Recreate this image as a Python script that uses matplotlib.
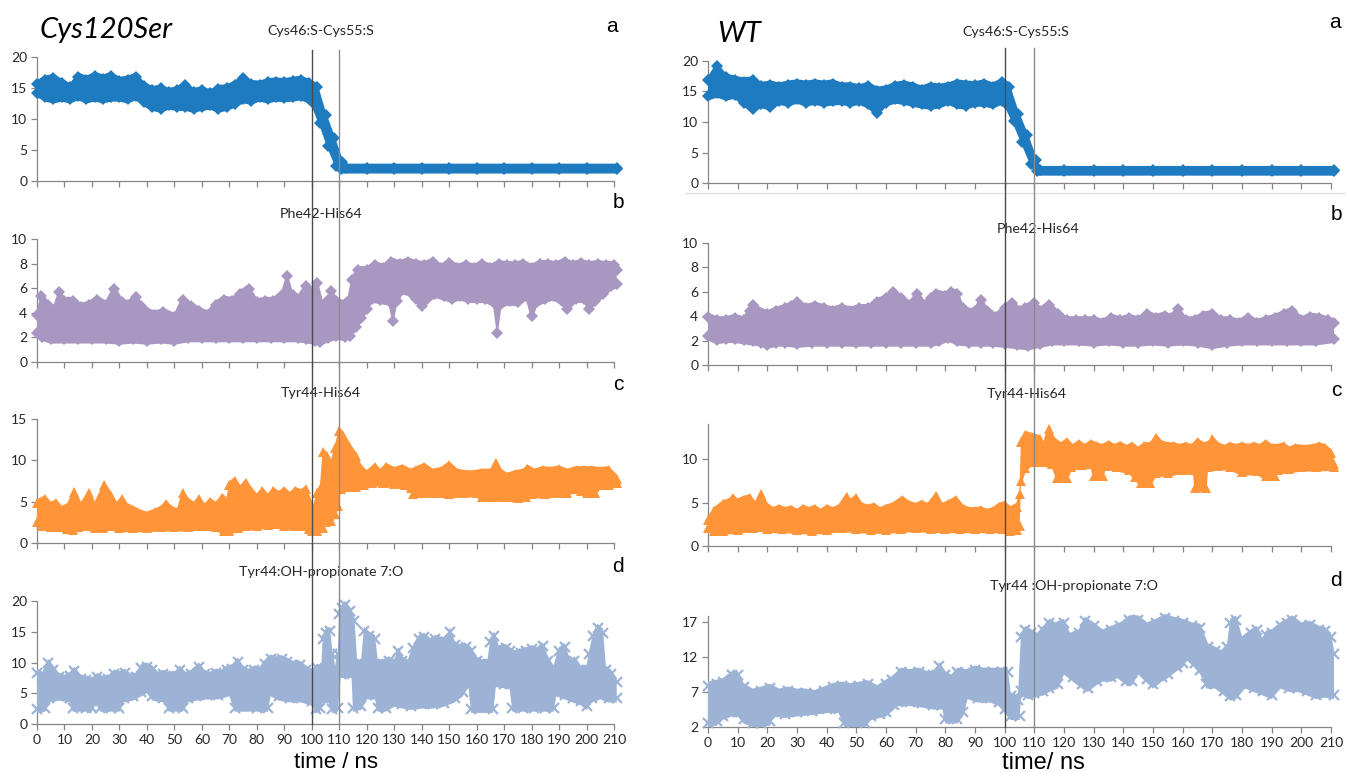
import numpy as np
import matplotlib
matplotlib.use("Agg")
import matplotlib.pyplot as plt
from matplotlib.lines import Line2D
from matplotlib.transforms import offset_copy

# ---------------- DATA (envelopes, time in ns) ----------------
# Cys120Ser, a: Cys46:S-Cys55:S
mut_a_t_hi = [0,3,6,9,12,15,18,21,24,27,30,33,36,39,42,45,48,51,54,57,60,63,66,69,72,75,78,81,84,87,90,93,96,99,102,105,108,111,112.5,120,130,140,150,160,170,180,190,200,211]
mut_a_hi = [16.3,17.0,17.3,16.5,15.8,17.5,17.0,17.6,17.2,17.6,16.8,17.0,17.5,16.0,15.3,15.6,15.0,15.3,16.2,15.0,15.3,14.8,15.5,15.6,16.2,17.3,16.3,16.2,16.6,16.7,16.6,16.8,17.0,16.5,15.8,11.3,7.6,3.8,2.8,2.8,2.8,2.8,2.8,2.8,2.8,2.8,2.8,2.8,2.8]
mut_a_t_lo = [0,3,6,9,12,15,18,21,24,27,30,33,36,39,42,45,48,51,54,57,60,63,66,69,72,75,78,81,84,87,90,93,96,99,100,103,106,109,110.5,120,130,140,150,160,170,180,190,200,211]
mut_a_lo = [13.5,12.8,12.5,12.8,12.5,13.0,12.5,12.8,12.5,12.8,12.8,12.5,13.0,12.0,11.3,11.0,11.5,11.3,11.3,11.0,11.3,11.5,11.0,11.3,11.8,12.5,12.3,12.8,12.5,12.8,12.7,12.8,13.0,12.5,12.0,8.7,5.0,1.8,1.2,1.2,1.2,1.2,1.2,1.2,1.2,1.2,1.2,1.2,1.2]

# WT, a
wt_a_t_hi = [0,3,6,9,12,15,18,21,24,27,30,33,36,39,42,45,48,51,54,57,60,63,66,69,72,75,78,81,84,87,90,93,96,99,101.5,104.5,107.5,110.5,112,120,130,140,150,160,170,180,190,200,211]
wt_a_hi = [17.5,19.8,18.0,17.6,17.3,17.5,16.6,16.8,16.5,16.8,17.0,16.8,17.0,16.8,17.0,16.5,16.5,16.2,16.6,15.8,16.0,16.6,16.8,16.5,16.0,16.5,16.3,16.5,17.0,16.8,16.7,17.0,16.5,17.2,16.5,12.0,8.5,4.5,2.8,2.8,2.8,2.8,2.8,2.8,2.8,2.8,2.8,2.8,2.8]
wt_a_t_lo = [0,3,6,9,12,15,18,21,24,27,30,33,36,39,42,45,48,51,54,57,60,63,66,69,72,75,78,81,84,87,90,93,96,99,100,103,106,109,111,120,130,140,150,160,170,180,190,200,211]
wt_a_lo = [13.5,14.0,13.5,13.8,12.5,11.5,12.3,11.8,12.8,12.5,13.0,12.5,12.8,12.5,12.7,12.8,12.5,12.8,12.2,10.8,12.5,13.0,12.8,12.5,12.2,12.0,12.2,12.8,12.2,12.0,12.5,12.5,12.2,12.8,12.5,9.5,6.0,2.5,1.2,1.2,1.2,1.2,1.2,1.2,1.2,1.2,1.2,1.2,1.2]

# Cys120Ser, b: Phe42-His64
mut_b_t_hi = [0,1.5,4,6,8,10,13,16,19,22,25,28,31,33,36,38,40,43,46,50,53,56,59,62,65,68,71,74,77,80,83,86,89,91,93,95,98,100,102,104,106,107,109,111,113,114.5,117,120,123,126,129,132,135,138,141,144,147,150,153,156,159,162,165,168,171,174,177,180,183,186,189,192,195,198,201,204,207,210,211]
mut_b_hi = [4.2,5.7,5.0,4.6,6.0,5.3,5.3,4.8,5.0,5.4,5.0,6.3,5.2,5.0,5.6,4.9,4.4,4.2,4.4,4.0,5.4,4.9,4.5,4.2,5.0,5.4,5.3,5.9,6.3,5.2,5.3,5.3,5.8,7.3,5.8,5.5,6.5,6.0,6.8,5.0,5.4,6.1,5.3,5.0,5.2,7.0,7.8,7.8,8.2,8.0,8.5,8.3,8.5,8.3,8.2,8.5,8.0,8.4,8.0,8.2,8.0,8.3,8.0,8.3,8.2,8.2,8.3,8.0,8.3,8.3,8.2,8.5,8.2,8.4,8.2,8.3,8.2,8.2,7.8]
mut_b_t_lo = [0,2,5,10,15,20,25,30,35,40,45,50,55,60,65,70,75,80,85,90,95,98,101,103,106,109,112,114,116,118,120,122,125,128,129.5,131,133,136,138,140,142,145,148,151,154,157,160,163,166,167.5,169,172,175,178,180,182,185,188,191,193,196,199,201,203,206,209,211]
mut_b_lo = [2.0,1.7,1.5,1.5,1.5,1.5,1.5,1.4,1.5,1.4,1.5,1.4,1.6,1.6,1.6,1.6,1.6,1.6,1.6,1.6,1.6,1.5,1.4,1.3,1.6,1.8,1.7,1.8,2.5,3.2,4.0,4.8,4.7,4.6,3.0,4.6,5.5,5.3,4.8,4.2,4.8,5.2,5.0,4.8,5.0,4.8,4.8,4.8,4.5,2.0,4.4,4.6,4.5,5.0,3.4,4.5,4.8,5.0,4.6,4.0,4.8,4.8,4.0,4.6,5.2,5.8,6.0]

# WT, b
wt_b_t_hi = [0,3,6,9,12,14,15,17,20,23,26,28,30,33,36,39,42,45,48,51,54,57,60,62.5,65,68,70.5,73,75,77,80,82,84,86,88,90,92,94,97,100,102.5,105,107,110,112,115,118,121,124,127,130,133,136,139,142,145,148,151,154,156,158.5,161,164,167,170,173,176,179,182,185,188,191,194,197,200,203,206,209,211]
wt_b_hi = [4.3,4.0,4.0,4.2,4.0,4.8,5.3,4.8,4.5,4.8,5.0,5.2,5.5,5.0,5.2,5.0,4.8,5.0,4.8,5.0,5.0,5.5,5.8,6.3,5.8,5.3,6.2,5.3,5.8,6.2,6.0,6.3,6.2,5.0,4.6,4.8,5.7,4.8,4.3,5.0,5.4,4.8,5.0,5.4,4.8,5.3,4.5,4.0,4.0,4.0,4.0,3.8,4.2,4.0,4.2,4.0,4.5,4.2,4.4,4.2,4.9,4.0,4.0,4.4,4.5,4.0,4.0,3.8,4.2,3.8,4.0,4.2,4.5,4.8,4.0,4.3,4.2,4.0,3.8]
wt_b_t_lo = [0,3,6,9,12,15,18,20,23,26,30,35,40,45,50,55,60,65,70,75,78,81,84,88,92,96,100,104,108,112,116,120,125,130,135,140,145,150,155,160,165,170,175,180,185,190,195,200,205,211]
wt_b_lo = [2.0,1.7,1.8,1.8,1.7,1.6,1.5,1.3,1.5,1.5,1.4,1.5,1.5,1.5,1.5,1.5,1.5,1.5,1.5,1.5,1.6,1.9,1.6,1.5,1.5,1.5,1.4,1.3,1.2,1.4,1.6,1.6,1.6,1.5,1.6,1.5,1.5,1.6,1.5,1.6,1.5,1.3,1.5,1.6,1.6,1.6,1.6,1.6,1.6,1.8]

# Cys120Ser, c: Tyr44-His64
mut_c_t_hi = [0,3,5,7,9,11,13.5,16,19,21,24.5,27,29,31,33,35,38,40,43,45,47,49,51,53,55,57,59,61,63,65,67.5,69,70,72,74,76,78,80,82,84,86,88,90,92,94,96,98,99.5,100.5,102,103,104,105.5,107,108.5,110,111.5,113.5,116,118,120,123,125,127,130,133,136,138,141,144,147,150,153,156,159,162,165,167,169,171,174,177,178.5,181,184,187,190,193,196,199,202,205,208,211]
mut_c_hi = [5.3,5.8,5.0,5.3,4.5,4.8,6.7,5.0,6.5,5.0,7.5,6.2,5.0,5.8,4.8,4.5,4.0,3.8,4.2,4.5,5.2,4.5,4.2,6.5,5.5,5.0,5.8,4.8,5.5,5.0,6.0,5.5,7.5,8.0,7.0,7.8,6.8,6.0,6.8,6.0,6.8,6.3,6.8,6.2,6.8,6.5,7.0,5.5,4.5,6.5,7.0,11.5,11.0,10.0,12.0,14.0,13.5,12.3,11.0,9.5,8.8,9.7,9.0,9.7,9.2,9.5,9.0,9.3,9.7,9.0,9.2,9.9,9.0,8.8,8.8,9.0,9.0,10.2,9.0,8.5,8.8,9.0,9.5,9.0,9.3,9.2,9.4,9.0,9.3,9.3,9.3,9.2,9.3,8.3]
mut_c_t_lo = [0,2,5,8,11,13,15,18,21,24,27,30,35,40,45,50,55,60,65,68,70,73,76,80,84,87,90,94,97,99,100,102,104,105,107,108.5,109.5,110.5,113,116,119,122,126,130,134,136,137,141,145,150,155,160,162,166,170,175,178,180,185,190,193,195,198,200,203,205,208,211]
mut_c_lo = [2.0,1.5,1.4,1.4,1.2,1.1,1.4,1.5,1.3,1.3,1.5,1.3,1.3,1.3,1.4,1.4,1.4,1.5,1.4,1.0,1.0,1.3,1.5,1.6,1.7,1.8,1.6,1.5,1.5,1.2,0.9,1.0,1.3,2.0,2.2,3.0,4.0,6.0,6.3,6.3,6.5,6.8,6.8,6.6,6.5,6.2,5.4,5.5,5.5,5.4,5.5,5.5,5.0,5.0,5.0,4.9,5.0,5.4,5.4,5.5,5.5,6.0,5.8,5.5,5.6,6.5,6.5,6.8]

# WT, c
wt_c_t_hi = [0,2,4,5,7,8.3,10,12,14,16,18,20,22,24,26,28,30,32,34,36,38,40,42,44,46.7,48,50,52,54,56,58,60,62,65.5,68,70,72,74,77,79,81,83.6,86,88,90,92,94,96,98,100,102,104,105,105.5,107,110,112,113,114.8,117,119,121,123,125,127,129,131,133,135,137,139,141,143,145,147,149,151,153,155,157,159,161,163,165,167,169,170,172,174,176,178,180,182,184,186,188,190,192,194,196,198,200,202,204,206,208,210,211]
wt_c_hi = [3.5,4.5,5.0,5.3,5.5,6.0,5.5,5.8,6.0,5.2,6.5,5.0,4.5,4.8,4.5,4.7,4.3,4.8,4.5,4.8,4.3,4.8,4.5,4.8,6.2,5.5,6.0,5.0,4.8,5.0,4.5,4.8,5.0,5.8,5.2,5.0,5.3,5.0,6.3,5.0,5.3,5.8,4.8,4.5,4.5,4.6,4.3,4.5,5.0,5.2,4.6,5.0,6.5,12.5,13.3,13.0,12.8,12.0,14.0,12.5,12.0,12.5,11.8,12.3,11.8,12.3,12.0,11.8,12.2,11.8,12.1,11.7,12.0,11.5,12.0,12.0,13.0,12.2,12.0,12.0,11.8,12.0,11.8,12.5,12.0,12.2,12.8,12.0,11.7,12.0,11.8,12.0,11.8,12.0,11.8,12.3,11.8,11.8,12.0,11.5,11.8,11.7,11.7,11.8,12.0,11.8,11.2,10.0]
wt_c_t_lo = [0,2,5,10,15,18,20,25,30,35,40,45,50,55,60,65,70,75,80,85,90,95,99,101.7,104,105,105.5,107,109,112,116,117.5,121,122.5,126,129,130,133,134,138,142,144,146,149,151,155,160,163.5,164,168,168.5,172,176,180,185,188,191,192,196,200,205,211]
wt_c_lo = [1.6,1.2,1.3,1.4,1.6,1.7,1.5,1.5,1.4,1.3,1.4,1.6,1.5,1.4,1.4,1.5,1.6,1.5,1.5,1.5,1.5,1.5,1.5,1.2,1.4,1.8,7.0,8.5,9.2,9.2,9.0,7.4,7.4,8.7,8.9,9.0,7.6,7.6,8.8,8.6,8.3,7.5,6.8,6.8,8.0,8.0,8.3,8.3,6.2,6.2,8.6,8.8,8.7,8.1,8.2,7.6,7.6,8.3,8.4,8.6,8.6,8.7]

# Cys120Ser, d: Tyr44:OH-propionate 7:O
mut_d_t_hi = [0,2,4,6,8,10,12,13.6,16,18,20,22,24,26,28,30,32,34,36,38,40,42,44,46,48,50,52,54,56,59,61,63,65,67,69,71,73,75,77,79,81,83,85,87,89,91,93,95.6,98,100,102,103.5,104,105,106.5,107.5,108.5,109.5,110,111,112,114,115.5,116.5,118,119,121,123,124,126,128,130,131.5,133,135,137,139,141,143,145,147,149,150.3,152,154,156,158,160,162,164,165,166.4,168,170.6,172,174,176,178,180,182,184,186,188,190,192,194,195.6,198,200,201,202.5,204,206,207,209,211]
mut_d_hi = [9.0,8.5,10.6,9.5,8.3,8.0,8.5,9.3,8.0,7.8,7.6,8.3,7.8,8.0,8.8,8.6,9.0,8.2,8.3,9.8,10.0,9.5,8.5,8.8,8.5,8.5,9.5,8.5,8.8,10.0,8.8,8.5,9.0,8.8,9.5,9.7,10.8,9.5,9.0,9.5,9.3,10.5,11.3,11.0,11.2,10.8,10.3,10.3,9.5,9.0,9.8,9.5,14.5,15.5,15.8,12.0,9.5,12.0,18.5,19.5,20.0,19.0,17.5,10.5,10.5,15.8,15.0,14.5,10.5,10.5,11.0,10.5,12.5,11.0,10.5,13.0,14.5,14.8,14.0,14.5,14.2,14.0,15.7,13.5,13.0,13.2,12.5,11.0,10.5,10.5,14.0,15.0,12.8,13.0,12.5,12.0,12.3,12.5,12.8,12.5,13.3,11.0,9.5,12.5,13.2,10.5,11.0,9.5,9.5,12.0,15.0,16.3,15.5,9.5,8.8,7.5]
mut_d_t_lo = [0,3,4.5,8,12,13,18,20,21.5,23,27,30,31.5,35,38,40,42,46,48,53,55,58,62,66,70,72,80,84,85,88,92,96,100,101.5,103,104,106,107.5,109.5,110.5,114.5,115,118,120,123,124,127,130,133,136,140,144,148,152,155,157,158,166,167,170,172,173,177,181,185,188,189,192,195,198,200,202,205,208,211]
mut_d_lo = [1.8,2.0,3.5,3.8,3.5,2.0,2.0,2.0,3.5,2.0,2.0,2.0,3.5,3.8,4.5,5.0,3.8,3.5,2.0,2.0,3.5,3.8,4.0,4.0,4.5,2.0,2.0,2.0,4.5,3.8,3.5,3.5,3.0,1.8,2.0,3.5,3.5,1.8,2.0,7.5,7.5,2.0,2.3,4.0,4.0,2.0,2.0,2.8,2.5,2.3,2.5,2.5,2.8,3.5,4.5,6.0,1.8,1.8,6.0,5.8,5.8,2.0,2.0,2.0,2.0,2.0,4.5,4.0,3.5,3.0,2.3,3.5,4.0,3.5,3.5]

# WT, d
wt_d_t_hi = [0,3,5,8,10,12,15,18,21,24,27,30,33,36,39,42,45,48,51,54,57,60,62,65,68,71,74,76,78,80,82,84,87,90,93,96,99,101,102,104.5,105.5,107,109,111,113,115,117,120,122,125,127,130,133,136,139,142,145,148,151,154,157,160,163,166,168.5,171,173,175,176,178,180,183,185,187,188,190,193,195,197,200,203,206,208,210,211]
wt_d_hi = [8.5,8.8,9.0,10.0,10.0,8.3,7.5,7.8,8.2,7.5,7.8,7.5,7.5,7.3,7.8,8.3,8.5,8.3,8.5,8.7,8.0,8.8,9.3,10.5,10.3,10.5,10.0,10.0,11.3,10.0,9.5,10.5,10.3,10.8,10.5,10.5,10.5,10.5,7.0,6.5,15.5,16.5,16.0,15.5,16.5,17.5,17.0,17.5,15.5,16.0,17.8,17.0,16.0,16.5,17.0,18.0,18.0,17.0,17.5,18.2,17.8,17.5,17.0,16.8,14.0,13.5,13.0,14.0,17.5,18.0,15.0,16.0,16.5,14.5,15.8,16.0,17.0,17.5,18.0,17.0,17.2,16.5,16.3,15.5,13.0]
wt_d_t_lo = [0,3,5,8,10,12,15,18,21,22,26,30,35,40,44,46,53,55,58,60,62.7,64,68,72,76,79,80,84,86,87.5,91,95,98,100,102,105,105.5,108,110,113,115,118,120,123,126,128,131,133,136,138,141,143,145,148,150,153,155,158,160,161.5,164,166,168,171,174,176,178,181,184,187,190,193,196,199,202,205,208,211]
wt_d_lo = [2.0,2.2,3.0,3.5,3.5,2.5,2.0,2.0,2.2,3.5,3.3,3.5,3.7,4.0,4.0,2.0,2.0,3.0,3.3,3.5,4.5,5.0,5.0,4.8,4.5,4.5,2.5,2.5,3.5,6.0,5.5,5.5,5.0,4.0,3.0,3.0,6.5,6.0,6.2,6.5,7.0,7.5,9.5,8.5,7.5,7.0,8.0,8.5,8.5,9.0,8.0,8.0,9.5,8.3,7.5,8.5,9.0,10.0,10.5,11.5,10.5,9.5,7.5,7.5,6.5,5.8,6.0,7.5,7.0,6.5,6.0,7.5,7.0,7.0,6.5,6.0,6.2,6.0]

x_ticks = list(range(0, 211, 10))
titles_mut = ["Cys46:S-Cys55:S", "Phe42-His64", "Tyr44-His64", "Tyr44:OH-propionate 7:O"]
titles_wt = ["Cys46:S-Cys55:S", "Phe42-His64", "Tyr44-His64", "Tyr44 :OH-propionate 7:O"]
panel_letters = ["a", "b", "c", "d"]
mut_yticks = [[0, 5, 10, 15, 20], [0, 2, 4, 6, 8, 10], [0, 5, 10, 15], [0, 5, 10, 15, 20]]
wt_yticks = [[0, 5, 10, 15, 20], [0, 2, 4, 6, 8, 10], [0, 5, 10], [2, 7, 12, 17]]
mut_ylims = [(0, 20), (0, 10), (0, 15), (0, 20)]
wt_ylims = [(0, 20), (0, 10), (0, 14.1), (2, 17.9)]
marked_times = [100, 110]

# ---------------- STYLE / LAYOUT ----------------
W, H = 1346, 772
colors = ["#1F7BC0", "#A897C0", "#FF9438", "#9DB3D6"]
markers = [("D", 6.5, 0), ("D", 6.5, 0), ("^", 7.5, 0), ("x", 7.0, 1.6)]
axis_col = "#868686"
txt_col = "#262626"
tick_font = "Lato"

fig = plt.figure(figsize=(W / 100, H / 100), dpi=100)

def rect(xl, xr, yt, yb):
    return [xl / W, 1 - yb / H, (xr - xl) / W, (yb - yt) / H]

mut_rows = [(57, 181), (239, 362), (419, 543), (601, 724)]
wt_rows = [(61, 183), (243, 365), (424, 546), (616, 727)]
mut_x = (37, 614)
wt_x = (708, 1331)

mut_data = [(mut_a_t_hi, mut_a_hi, mut_a_t_lo, mut_a_lo), (mut_b_t_hi, mut_b_hi, mut_b_t_lo, mut_b_lo),
            (mut_c_t_hi, mut_c_hi, mut_c_t_lo, mut_c_lo), (mut_d_t_hi, mut_d_hi, mut_d_t_lo, mut_d_lo)]
wt_data = [(wt_a_t_hi, wt_a_hi, wt_a_t_lo, wt_a_lo), (wt_b_t_hi, wt_b_hi, wt_b_t_lo, wt_b_lo),
           (wt_c_t_hi, wt_c_hi, wt_c_t_lo, wt_c_lo), (wt_d_t_hi, wt_d_hi, wt_d_t_lo, wt_d_lo)]


def draw_panel(ax, data, i, ylim, yticks, last):
    t_hi, hi, t_lo, lo = data
    col = colors[i]
    mk, ms, mew = markers[i]
    px = np.concatenate([np.asarray(t_hi, float), np.asarray(t_lo, float)[::-1]])
    py = np.concatenate([np.asarray(hi, float), np.asarray(lo, float)[::-1]])
    ax.fill(px, py, color=col, lw=0, clip_on=False, zorder=2)
    r = 4.2
    tr_hi = offset_copy(ax.transData, fig=fig, x=0, y=-r, units="dots")
    tr_lo = offset_copy(ax.transData, fig=fig, x=0, y=r, units="dots")
    kw = dict(ls="none", marker=mk, ms=ms, color=col, mew=mew, clip_on=False, zorder=2)
    if mk != "x":
        kw["mec"] = col
    ax.plot(t_hi, hi, transform=tr_hi, **kw)
    ax.plot(t_lo, lo, transform=tr_lo, **kw)
    ax.set_xlim(0, 210)
    ax.set_ylim(*ylim)
    ax.set_yticks(yticks)
    ax.set_xticks(x_ticks)
    for s in ["top", "right"]:
        ax.spines[s].set_visible(False)
    for s in ["left", "bottom"]:
        ax.spines[s].set_color(axis_col)
        ax.spines[s].set_linewidth(0.9)
        ax.spines[s].set_zorder(1)
    ax.tick_params(axis="both", direction="out", color=axis_col, width=0.9, length=4,
                   labelsize=10, labelcolor=txt_col, pad=3)
    for lab in ax.get_yticklabels() + ax.get_xticklabels():
        lab.set_fontfamily(tick_font)
    if not last:
        ax.set_xticklabels([])
    ax.patch.set_alpha(0)


def column(xr, rows, datas, ylims, yticks):
    axes = []
    for i in range(4):
        ax = fig.add_axes(rect(xr[0], xr[1], rows[i][0], rows[i][1]))
        draw_panel(ax, datas[i], i, ylims[i], yticks[i], i == 3)
        axes.append(ax)
    return axes


mut_axes = column(mut_x, mut_rows, mut_data, mut_ylims, mut_yticks)
wt_axes = column(wt_x, wt_rows, wt_data, wt_ylims, wt_yticks)

# vertical marker lines spanning all panels
inv = fig.transFigure.inverted()
for axes, ytop, ybot in [(mut_axes, 50, 724), (wt_axes, 48, 727)]:
    for k, tm in enumerate(marked_times):
        xf = inv.transform(axes[0].transData.transform((tm, 0)))[0]
        fig.add_artist(Line2D([xf, xf], [1 - ytop / H, 1 - ybot / H], transform=fig.transFigure,
                              color="#4a4a4a" if k == 0 else "#8a8a8a", lw=1.0, zorder=10))

# faint chart border line (right chart)
fig.add_artist(Line2D([685 / W, 1], [1 - 193 / H, 1 - 193 / H], transform=fig.transFigure,
                      color="#e3e3e3", lw=1.0))


def ftext(x, y, s, **kw):
    fig.text(x / W, 1 - y / H, s, ha="center", va="center", **kw)

mut_title_pos = [(321, 31), (321, 214), (321, 393), (321, 572)]
wt_title_pos = [(1016, 32), (1038, 229), (1027, 394), (1074, 586)]
mut_letter_pos = [(612, 26), (618, 203), (618, 385), (618, 567)]
wt_letter_pos = [(1335, 22), (1336, 215), (1336, 390), (1336, 580)]
for i in range(4):
    ftext(*mut_title_pos[i], titles_mut[i], fontsize=10.3, family="Lato", color=txt_col)
    ftext(*wt_title_pos[i], titles_wt[i], fontsize=10.3, family="Lato", color=txt_col)
    ftext(*mut_letter_pos[i], panel_letters[i], fontsize=15, family="Liberation Sans", color="black")
    ftext(*wt_letter_pos[i], panel_letters[i], fontsize=15, family="Liberation Sans", color="black")

fig.text(40 / W, 1 - 30 / H, "Cys120Ser", ha="left", va="center", fontsize=21, style="italic",
         family="Lato", color="black")
fig.text(717 / W, 1 - 34 / H, "WT", ha="left", va="center", fontsize=21, style="italic",
         family="Lato", color="black")
ftext(336, 762, "time / ns", fontsize=16, family="Liberation Sans", color="black")
ftext(1043, 763, "time/ ns", fontsize=17, family="Liberation Sans", color="black")

fig.savefig("out.png", dpi=100)
